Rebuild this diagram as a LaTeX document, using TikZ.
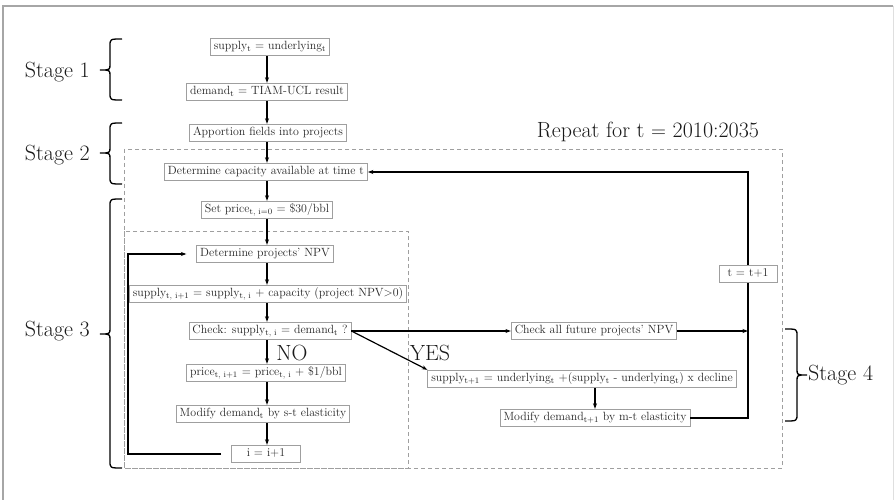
\documentclass[tikz,border=0pt]{standalone}
\usetikzlibrary{arrows.meta}
\newcommand\mybraceL[6]{% xe xs xt ytop ytip ybot
  \draw[brc] (#1,#4) .. controls (#2,#4) .. (#2,#4+7) -- (#2,#5-6) .. controls (#2,#5) .. (#3,#5)
    .. controls (#2,#5) .. (#2,#5+6) -- (#2,#6-7) .. controls (#2,#6) .. (#1,#6);}
\begin{document}
\begin{tikzpicture}[x=1pt,y=-1pt,
  box/.style={draw=gray!75,line width=0.8pt,fill=white,font=\fontsize{11.9}{14}\selectfont,
    text height=8.2pt,text depth=2.6pt,inner ysep=3.4pt,inner xsep=3.5pt,text=black!85},
  arr/.style={line width=1.2pt,-{Stealth[length=5.5pt,width=4pt]}},
  dbox/.style={draw=gray!75,line width=0.8pt,dash pattern=on 4pt off 3pt},
  big/.style={font=\fontsize{22}{26}\selectfont,text=black!90,inner sep=0pt},
  brc/.style={line width=1.3pt}]
\useasboundingbox (0,0) rectangle (895,500);
% outer frame
\draw[gray!70,line width=1.6pt] (3,500) -- (3,6) -- (893,6);
\draw[gray!25,line width=1pt] (893,6) -- (893,500);
% dashed regions
\draw[dbox] (124,149) rectangle (782,468);
\draw[dbox] (124,231) rectangle (408,468);
\node[big,anchor=center] (repeat) at (648,132) {Repeat for t $=$ 2010:2035};
% nodes
\node[box] (sup) at (270,47) {supply\textsubscript{t} $=$ underlying\textsubscript{t}};
\node[box] (dem) at (267,92) {demand\textsubscript{t} $=$ TIAM-UCL result};
\node[box] (app) at (268,133) {Apportion fields into projects};
\node[box] (cap) at (266,172) {Determine capacity available at time t};
\node[box] (setp) at (267,210) {Set price\textsubscript{t, i=0} $=$ \$30/bbl};
\node[box] (npv) at (265,254) {Determine projects' NPV};
\node[box] (supi) at (268,294) {supply\textsubscript{t, i+1} $=$ supply\textsubscript{t, i} $+$ capacity (project NPV$>$0)};
\node[box] (chk) at (270,331) {Check: supply\textsubscript{t, i} $=$ demand\textsubscript{t} ?};
\node[box] (pri) at (266,373) {price\textsubscript{t, i+1} $=$ price\textsubscript{t, i} $+$ \$1/bbl};
\node[box] (mod) at (263,414) {Modify demand\textsubscript{t} by s-t elasticity};
\node[box,minimum width=69pt] (inc) at (266,454) {i $=$ i+1};
\node[box] (all) at (594,331) {Check all future projects' NPV};
\node[box] (sup2) at (582,379) {supply\textsubscript{t+1} $=$ underlying\textsubscript{t} $+$(supply\textsubscript{t} - underlying\textsubscript{t}) x decline};
\node[box] (mod2) at (595,418) {Modify demand\textsubscript{t+1} by m-t elasticity};
% vertical flow
\coordinate (ax) at (267,0);
\foreach \a/\b in {sup/dem,dem/app,app/cap,cap/setp,setp/npv,npv/supi,supi/chk,chk/pri,pri/mod,mod/inc}
  \draw[arr] (\a.south -| ax) -- (\b.north -| ax);
% inner loop
\coordinate (lc) at (128,454);
\draw[arr,shorten <=10pt,shorten >=10pt] (inc.west) -- (lc) |- (npv.west);
% yes branches
\draw[arr] (chk.east) -- (all.west);
\draw[arr] (chk.east) -- (sup2.north west);
\draw[arr] (sup2.south -| mod2.north) -- (mod2.north);
% outer loop
\coordinate (rb) at (748,418);
\coordinate (rt) at (748,172);
\coordinate (rj) at (748,331);
\draw[arr] (mod2.east) -- (rb) -- (rt) -- (cap.east);
\draw[arr] (all.east) -- (rj);
\node[box,minimum width=58pt] (tinc) at (748,274) {t $=$ t+1};
% labels
\node[big] (no) at (292,353) {NO};
\node[big] (yes) at (430,353) {YES};
% braces and stages
\mybraceL{122}{110}{100}{39}{70}{100}
\mybraceL{122}{110}{100}{123}{153}{184}
\mybraceL{122}{110}{100}{199}{334}{468}
\mybraceL{785}{797}{807}{329}{375}{421}
\node[big,anchor=east] (s1) at (90,72) {Stage 1};
\node[big,anchor=east] (s2) at (90,155) {Stage 2};
\node[big,anchor=east] (s3) at (90,331) {Stage 3};
\node[big,anchor=west] (s4) at (808,375) {Stage 4};
\end{tikzpicture}
\end{document}
